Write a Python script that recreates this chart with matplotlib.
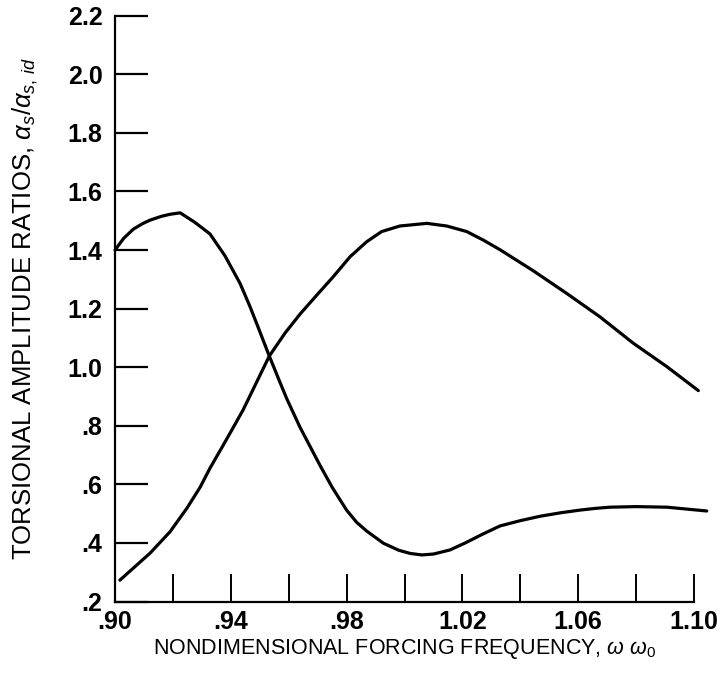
import matplotlib.pyplot as plt

# valores
freq_a = [0.900, 0.903, 0.9063, 0.9095, 0.9121, 0.916, 0.919, 0.9225,
          0.9275, 0.9328, 0.938, 0.9432, 0.9465, 0.9489, 0.9533, 0.9565,
          0.9593, 0.9639, 0.9708, 0.975, 0.980, 0.9835, 0.987, 0.9927,
          0.998, 1.002, 1.006, 1.010, 1.0157, 1.021, 1.027, 1.033, 1.040,
          1.0468, 1.054, 1.0606, 1.066, 1.071, 1.080, 1.0906, 1.097, 1.1044]
ratio_a = [1.40, 1.44, 1.471, 1.49, 1.502, 1.515, 1.522, 1.527,
           1.495, 1.455, 1.38, 1.286, 1.21, 1.15, 1.038, 0.960,
           0.893, 0.795, 0.665, 0.59, 0.512, 0.47, 0.44, 0.399,
           0.375, 0.364, 0.359, 0.362, 0.376, 0.40, 0.43, 0.458, 0.476,
           0.491, 0.503, 0.512, 0.518, 0.522, 0.524, 0.522, 0.516, 0.509]

freq_b = [0.9017, 0.9121, 0.919, 0.9248, 0.9294, 0.9328, 0.9374, 0.9409,
          0.9443, 0.9533, 0.9587, 0.9639, 0.9697, 0.9754, 0.9812, 0.9869,
          0.9921, 0.9984, 1.0077, 1.0146, 1.0215, 1.0272, 1.033, 1.0445,
          1.056, 1.0675, 1.079, 1.0906, 1.1015]
ratio_b = [0.273, 0.365, 0.438, 0.518, 0.590, 0.655, 0.734, 0.795,
           0.855, 1.038, 1.116, 1.181, 1.246, 1.309, 1.377, 1.428,
           1.463, 1.482, 1.491, 1.482, 1.463, 1.434, 1.401, 1.329,
           1.252, 1.172, 1.082, 1.002, 0.92]

xticks = [0.90, 0.92, 0.94, 0.96, 0.98, 1.00, 1.02, 1.04, 1.06, 1.08, 1.10]
xlabels = [".90", "", ".94", "", ".98", "", "1.02", "", "1.06", "", "1.10"]
yticks = [0.2, 0.4, 0.6, 0.8, 1.0, 1.2, 1.4, 1.6, 1.8, 2.0, 2.2]
ylabels = [".2", ".4", ".6", ".8", "1.0", "1.2", "1.4", "1.6", "1.8", "2.0", "2.2"]

plt.rcParams['font.family'] = ['Liberation Sans', 'DejaVu Sans']
plt.rcParams['mathtext.fontset'] = 'custom'
plt.rcParams['mathtext.rm'] = 'Liberation Sans'
plt.rcParams['mathtext.it'] = 'Liberation Sans:italic'

fig = plt.figure(figsize=(7.21, 6.74), dpi=100)
ax = fig.add_axes([115 / 721, 1 - 601.5 / 674, (694 - 115) / 721, (601.5 - 15.7) / 674])

ax.plot(freq_a, ratio_a, color="black", lw=2.3, clip_on=False,
        solid_joinstyle="round", solid_capstyle="round")
ax.plot(freq_b, ratio_b, color="black", lw=2.3, clip_on=False,
        solid_joinstyle="round", solid_capstyle="round")

ax.set_xlim(0.90, 1.10)
ax.set_ylim(0.2, 2.2)
ax.spines["top"].set_visible(False)
ax.spines["right"].set_visible(False)
ax.spines["left"].set_linewidth(1.6)
ax.spines["bottom"].set_linewidth(1.6)

ax.set_xticks(xticks)
ax.set_xticklabels(xlabels)
ax.set_yticks(yticks)
ax.set_yticklabels(ylabels)
ax.tick_params(axis="y", direction="in", length=24, width=1.6, pad=9,
               labelsize=18)
ax.tick_params(axis="x", direction="in", length=20, width=1.4, pad=6,
               labelsize=18)
for lab in ax.get_xticklabels() + ax.get_yticklabels():
    lab.set_fontweight("bold")

ax.set_xlabel(r"NONDIMENSIONAL FORCING FREQUENCY, $\omega$ $\omega_0$",
              fontsize=15.5, labelpad=2)
ax.set_ylabel(r"TORSIONAL AMPLITUDE RATIOS, $\alpha_s/\alpha_{s,\,id}$",
              fontsize=18.5, labelpad=20)

fig.savefig("out.png", dpi=100, facecolor="white")
